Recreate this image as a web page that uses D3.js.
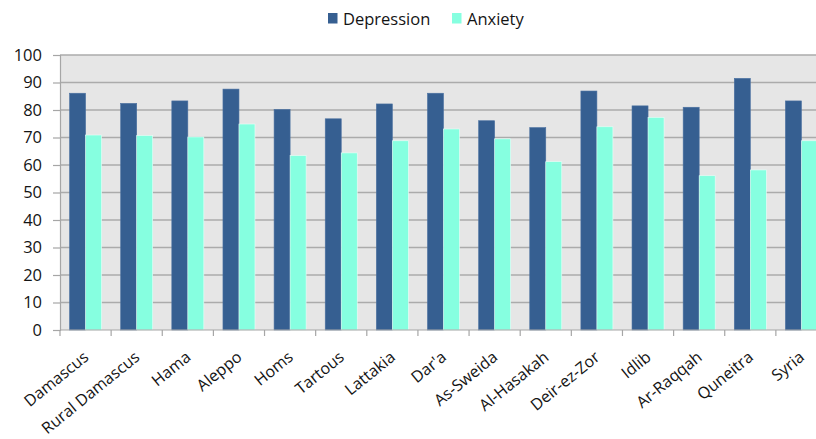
<!DOCTYPE html>
<html>
<head>
<meta charset="utf-8">
<script src="https://cdn.jsdelivr.net/npm/d3@7"></script>
<style>
  html, body { margin: 0; padding: 0; background: #ffffff; overflow: hidden; }
  svg { display: block; font-family: "Open Sans", "Noto Sans", sans-serif; }
</style>
</head>
<body>
<svg id="chart" width="816" height="439"></svg>
<script>
const categories = ["Damascus", "Rural Damascus", "Hama", "Aleppo", "Homs", "Tartous", "Lattakia",
  "Dar'a", "As-Sweida", "Al-Hasakah", "Deir-ez-Zor", "Idlib", "Ar-Raqqah", "Quneitra", "Syria"];
const seriesNames = ["Depression", "Anxiety"];
const depression = [86.1, 82.4, 83.3, 87.6, 80.2, 76.8, 82.2, 86.1, 76.1, 73.6, 86.9, 81.5, 81.0, 91.5, 83.3];
const anxiety    = [70.9, 70.7, 70.2, 74.9, 63.4, 64.4, 68.8, 73.1, 69.5, 61.2, 73.9, 77.3, 56.1, 58.2, 68.8];
const yTicks = [0, 10, 20, 30, 40, 50, 60, 70, 80, 90, 100];
const colors = ["#365f91", "#86ffe0"];

const svg = d3.select("#chart");
const plot = { left: 60, right: 827, top: 55, bottom: 330 };

const x0 = d3.scaleBand().domain(categories).range([plot.left, plot.right])
  .paddingInner(0.374).paddingOuter(0.187);
const x1 = d3.scaleBand().domain(seriesNames).range([0, x0.bandwidth()]);
const y = d3.scaleLinear().domain([0, 100]).range([plot.bottom, plot.top]);

// plot background
svg.append("rect")
  .attr("x", plot.left).attr("y", plot.top)
  .attr("width", plot.right - plot.left).attr("height", plot.bottom - plot.top)
  .attr("fill", "#e6e6e6");

// gridlines
svg.append("g").selectAll("line").data(yTicks.filter(d => d > 0)).join("line")
  .attr("x1", plot.left).attr("x2", plot.right)
  .attr("y1", d => y(d)).attr("y2", d => y(d))
  .attr("stroke", "#ababab").attr("stroke-width", 1.6);

// bars
const data = categories.map((c, i) => ({ cat: c, vals: [depression[i], anxiety[i]] }));
const groups = svg.append("g").selectAll("g").data(data).join("g")
  .attr("transform", d => `translate(${x0(d.cat)},0)`);
groups.selectAll("rect").data(d => d.vals.map((v, j) => ({ name: seriesNames[j], v, j }))).join("rect")
  .attr("x", d => x1(d.name))
  .attr("y", d => y(d.v))
  .attr("width", x1.bandwidth())
  .attr("height", d => y(0) - y(d.v))
  .attr("fill", d => colors[d.j])
  .attr("stroke", d => d.j === 0 ? "#4a70a0" : "#e8fff8")
  .attr("stroke-width", 0.6);

// y axis
const yAxis = d3.axisLeft(y).tickValues(yTicks).tickSize(7).tickPadding(11);
const gy = svg.append("g").attr("transform", `translate(${plot.left},0)`).call(yAxis);
gy.select(".domain").attr("stroke", "#a6a6a6").attr("stroke-width", 1.2);
gy.selectAll(".tick line").attr("stroke", "#a6a6a6").attr("stroke-width", 1.2);
gy.selectAll(".tick text").attr("fill", "#141414").style("font-size", "16.5px")
  .style("font-family", "'Open Sans', sans-serif");

// x axis line and category-boundary ticks
const gx = svg.append("g");
gx.append("line").attr("x1", plot.left).attr("x2", plot.right)
  .attr("y1", plot.bottom).attr("y2", plot.bottom)
  .attr("stroke", "#a6a6a6").attr("stroke-width", 1.2);
const step = x0.step();
gx.selectAll("line.tk").data(d3.range(categories.length + 1)).join("line")
  .attr("class", "tk")
  .attr("x1", i => plot.left + i * step).attr("x2", i => plot.left + i * step)
  .attr("y1", plot.bottom).attr("y2", plot.bottom + 6)
  .attr("stroke", "#a6a6a6").attr("stroke-width", 1.2);
gx.selectAll("text").data(categories).join("text")
  .attr("transform", d => `translate(${x0(d) + x0.bandwidth() / 2 + 4},${plot.bottom + 29}) rotate(-39)`)
  .attr("text-anchor", "end")
  .attr("fill", "#141414")
  .style("font-size", "16px")
  .text(d => d);

// legend
const legendItems = [{ name: "Depression", x: 328 }, { name: "Anxiety", x: 452 }];
const lg = svg.append("g").selectAll("g").data(legendItems).join("g")
  .attr("transform", d => `translate(${d.x},0)`);
lg.append("rect").attr("x", 0).attr("y", 13).attr("width", 9.5).attr("height", 10.5)
  .attr("fill", (d, i) => colors[i]);
lg.append("text").attr("x", 15).attr("y", 24.5).attr("fill", "#141414")
  .style("font-size", "16.5px").text(d => d.name);
</script>
</body>
</html>
